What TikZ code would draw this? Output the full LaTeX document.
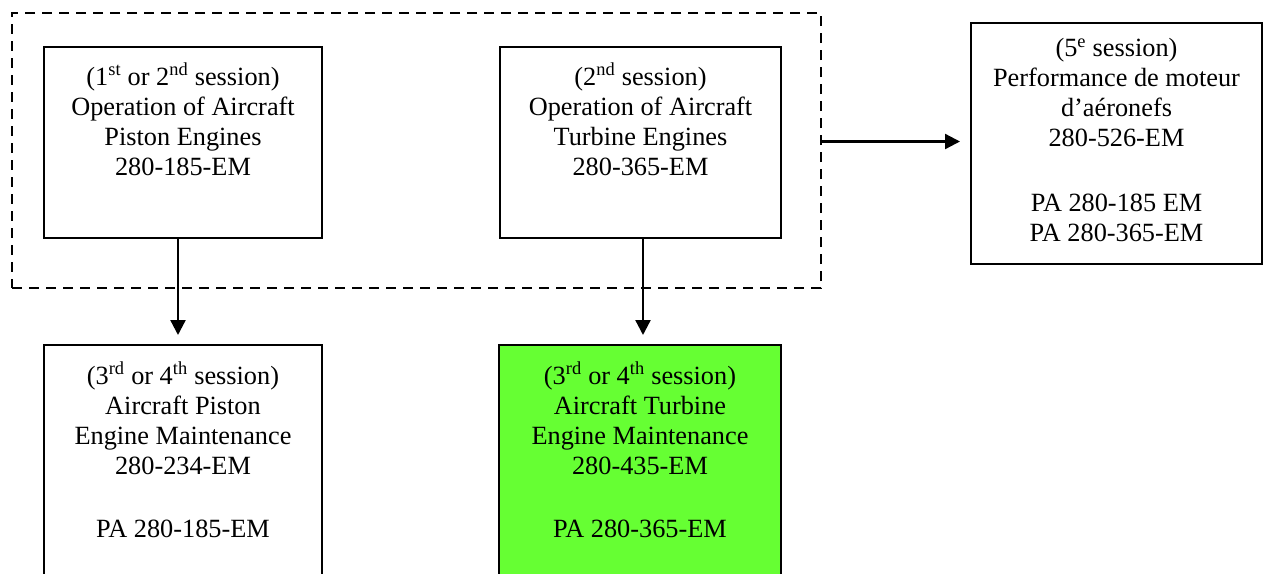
\documentclass[tikz,border=0pt]{standalone}
\usepackage{fontspec}
\setmainfont{Liberation Serif}
\usetikzlibrary{arrows.meta}
\definecolor{boxgreen}{HTML}{66FF33}
\begin{document}
\begin{tikzpicture}[x=1pt,y=-1pt,
  box/.style={draw, line width=2.3pt, anchor=north west, inner sep=0pt, outer sep=0pt},
  txt/.style={anchor=north, align=center, inner sep=0pt, font=\fontsize{26.3}{30}\selectfont},
  grp/.style={draw, line width=2.8pt, dash pattern=on 10pt off 7pt, anchor=north west, inner sep=0pt, outer sep=0pt},
  arr/.style={line width=2.3pt, -{Triangle[length=15pt,width=15pt]}}]
\clip (0,0) rectangle (1266,573);
\fill[white] (0,0) rectangle (1266,573);
% group
\node[grp, minimum width=809pt, minimum height=275pt] (grp) at (12,13) {};
% boxes
\node[box, minimum width=278pt, minimum height=191pt] (b1) at (44,47) {};
\node[box, minimum width=281pt, minimum height=191pt] (b2) at (500,47) {};
\node[box, minimum width=291pt, minimum height=241pt] (rb) at (971,23) {};
\node[box, minimum width=278pt, minimum height=260pt] (b4) at (44,345) {};
\node[box, fill=boxgreen, minimum width=282pt, minimum height=260pt] (b5) at (499,345) {};
% texts
\node[txt] (t1) at ([yshift=-16pt]b1.north) {(1\textsuperscript{st} or 2\textsuperscript{nd} session)\\Operation of Aircraft\\Piston Engines\\280-185-EM};
\node[txt] (t2) at ([yshift=-16pt]b2.north) {(2\textsuperscript{nd} session)\\Operation of Aircraft\\Turbine Engines\\280-365-EM};
\node[txt] (t3) at ([yshift=-15pt]rb.north) {(5\textsuperscript{e} session)\\Performance de moteur\\d’aéronefs\\280-526-EM\\[35pt]PA 280-185 EM\\PA 280-365-EM};
\node[txt] (t4) at ([yshift=-17pt]b4.north) {(3\textsuperscript{rd} or 4\textsuperscript{th} session)\\Aircraft Piston\\Engine Maintenance\\280-234-EM\\[33pt]PA 280-185-EM};
\node[txt] (t5) at ([yshift=-17pt]b5.north) {(3\textsuperscript{rd} or 4\textsuperscript{th} session)\\Aircraft Turbine\\Engine Maintenance\\280-435-EM\\[33pt]PA 280-365-EM};
% arrows
\draw[arr, shorten >=10pt] ([xshift=-5pt]b1.south) -- ([xshift=-5pt]b1.south |- b4.north);
\draw[arr, shorten >=10pt] ([xshift=2.5pt]b2.south) -- ([xshift=2.5pt]b2.south |- b5.north);
\draw[arr, shorten >=11pt] ([yshift=2pt]rb.west -| grp.east) -- ([yshift=2pt]rb.west);
\end{tikzpicture}
\end{document}
